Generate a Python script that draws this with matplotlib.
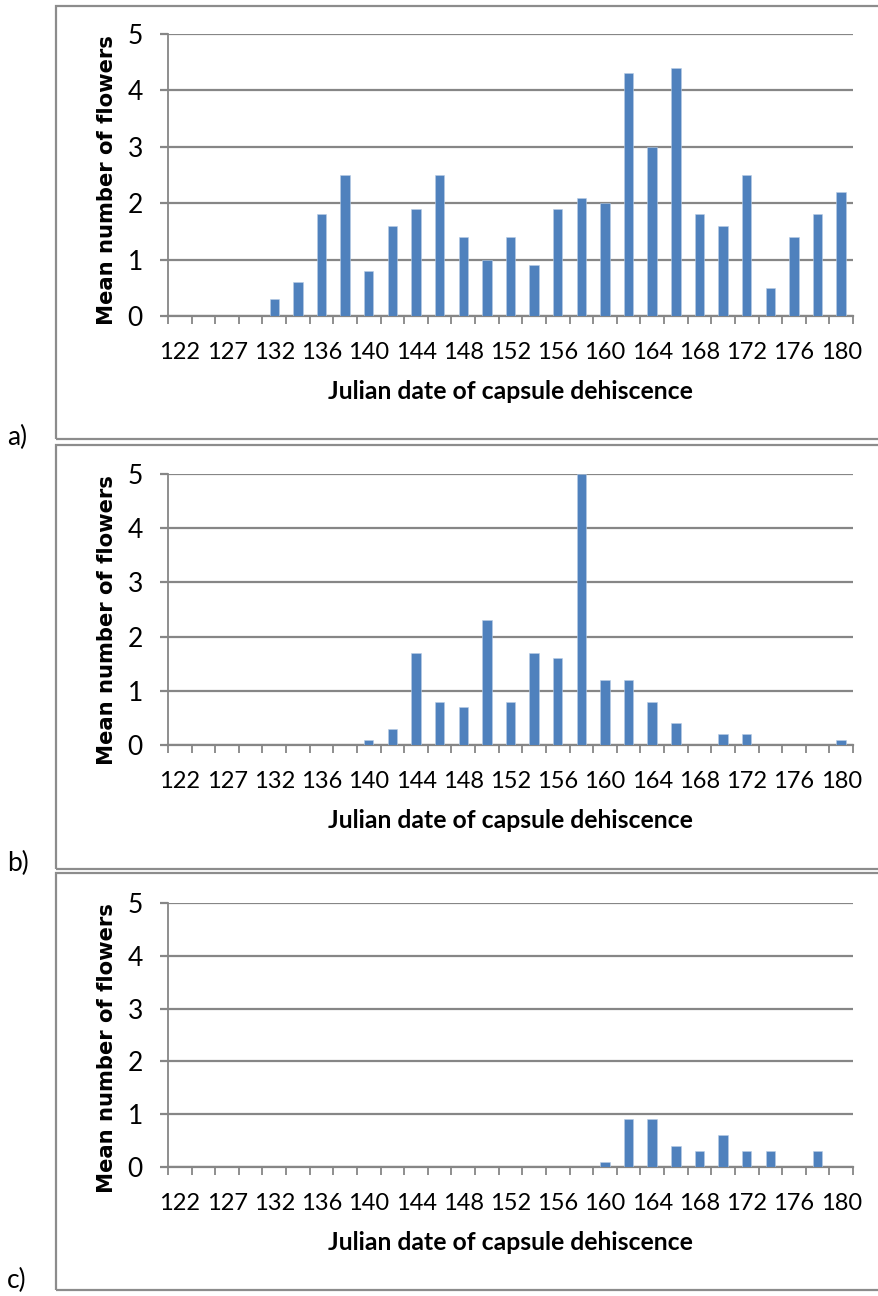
import matplotlib
matplotlib.use("Agg")
import matplotlib.pyplot as plt
from matplotlib.patches import Rectangle
import numpy as np

W, H = 879, 1296
DPI = 100

categories = ["122", "125", "127", "130", "132", "134", "136", "138", "140", "142",
              "144", "146", "148", "150", "152", "154", "156", "158", "160", "162",
              "164", "166", "168", "170", "172", "174", "176", "178", "180"]

values_a = [0, 0, 0, 0, 0.3, 0.6, 1.8, 2.5, 0.8, 1.6,
            1.9, 2.5, 1.4, 1.0, 1.4, 0.9, 1.9, 2.1, 2.0, 4.3,
            3.0, 4.4, 1.8, 1.6, 2.5, 0.5, 1.4, 1.8, 2.2]
values_b = [0, 0, 0, 0, 0, 0, 0, 0, 0.1, 0.3,
            1.7, 0.8, 0.7, 2.3, 0.8, 1.7, 1.6, 5.0, 1.2, 1.2,
            0.8, 0.4, 0, 0.2, 0.2, 0, 0, 0, 0.1]
values_c = [0, 0, 0, 0, 0, 0, 0, 0, 0, 0,
            0, 0, 0, 0, 0, 0, 0, 0, 0.1, 0.9,
            0.9, 0.4, 0.3, 0.6, 0.3, 0.3, 0, 0.3, 0]

panel_letters = ["a)", "b)", "c)"]
y_ticks = [0, 1, 2, 3, 4, 5]
x_label = "Julian date of capsule dehiscence"
y_label = "Mean number of flowers"

BAR = "#4F81BD"
GRID = "#868686"
FRAME = "#8C8C8C"

fig = plt.figure(figsize=(W / DPI, H / DPI), dpi=DPI)

def fx(px):
    return px / W

def fy(py):
    return 1 - py / H

# layout (pixels): axes top, axes bottom, box top, box bottom, letter y, ylabel y, xlabel y
panels = [
    (values_a, 34, 316, 5.5, 439, 437, 180, 391),
    (values_b, 474, 745, 445, 869, 863, 620, 820),
    (values_c, 903, 1167, 873, 1290, 1280, 1048, 1242),
]
AX_L, AX_R = 168, 853
px2pt = 72 / DPI
TICK_FS = 17

for (vals, top, bot, btop, bbot, ly, yly, xly), letter in zip(panels, panel_letters):
    # frame box
    fig.add_artist(Rectangle((fx(56), fy(bbot)), fx(W + 20 - 56), (bbot - btop) / H,
                             transform=fig.transFigure, fill=False,
                             edgecolor=FRAME, linewidth=1.6, clip_on=False))
    fig.text(fx(7), fy(ly), letter, ha="left", va="center",
             fontsize=19, family="Lato", color="black")

    ax = fig.add_axes([fx(AX_L), fy(bot), fx(AX_R - AX_L), (bot - top) / H])
    x = np.arange(len(categories))
    ax.bar(x, vals, width=0.4, color=BAR, zorder=3, edgecolor="#B9CDE5", linewidth=0.4)
    ax.set_xlim(-0.5, len(categories) - 0.5)
    ax.set_ylim(0, 5)
    ax.set_yticks(y_ticks)
    ax.yaxis.grid(True, color=GRID, linewidth=1.6, zorder=0)
    for s in ["top", "right"]:
        ax.spines[s].set_visible(False)
    ax.spines["left"].set_color(GRID)
    ax.spines["left"].set_linewidth(1.3)
    ax.spines["bottom"].set_color(GRID)
    ax.spines["bottom"].set_linewidth(1.6)
    ax.set_xticks(x[::2])
    ax.set_xticklabels(categories[::2])
    ax.set_xticks(np.arange(-0.5, len(categories), 1.0), minor=True)
    ax.tick_params(axis="x", which="major", length=0, pad=26 * px2pt,
                   labelsize=TICK_FS)
    ax.tick_params(axis="x", which="minor", length=8 * px2pt, width=1.3,
                   color=GRID, direction="out")
    ax.tick_params(axis="y", length=8 * px2pt, width=1.6, color=GRID,
                   direction="out", pad=17 * px2pt, labelsize=19)
    for lab in ax.get_xticklabels() + ax.get_yticklabels():
        lab.set_family("Lato")

    fig.text(fx(107), fy(yly), y_label, rotation=90, ha="center", va="center",
             fontsize=15.2, fontweight="bold", family="DejaVu Sans")
    fig.text(fx((AX_L + AX_R) / 2), fy(xly), x_label, ha="center", va="center",
             fontsize=17.8, fontweight="bold", family="Lato")

fig.savefig("out.png", dpi=DPI)
